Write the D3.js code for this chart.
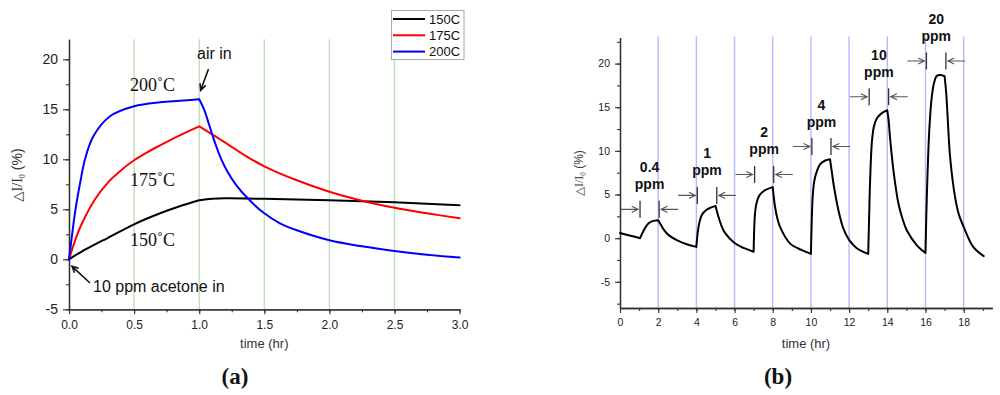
<!DOCTYPE html>
<html>
<head>
<meta charset="utf-8">
<script src="https://cdn.jsdelivr.net/npm/d3@7"></script>
<style>
  body { margin: 0; background: #fff; }
  svg { display: block; }
  .sans { font-family: "Liberation Sans", Arial, sans-serif; }
  .serif { font-family: "Liberation Serif", "Times New Roman", serif; }
</style>
</head>
<body>
<div id="chart"></div>
<script>
// Panel (a): 10 ppm acetone at three temperatures
const tempSeries = ["150C", "175C", "200C"];
const tempColors = ["#000000", "#ff0000", "#0000ff"];

const time150 = [0, 0.1, 0.2, 0.3, 0.5, 0.7, 0.85, 1.0, 1.1, 1.2, 1.5, 2.0, 2.5, 3.0];
const resp150 = [0, 0.8, 1.5, 2.15, 3.5, 4.6, 5.3, 5.9, 6.05, 6.1, 6.05, 5.9, 5.7, 5.4];

const time175 = [0, 0.05, 0.1, 0.2, 0.3, 0.4, 0.5, 0.6, 0.7, 0.85, 1.0,
  1.1, 1.22, 1.35, 1.5, 1.75, 2.0, 2.25, 2.5, 2.75, 3.0];
const resp175 = [0, 2.0, 3.6, 6.0, 7.7, 8.9, 9.9, 10.7, 11.4, 12.4, 13.3,
  12.5, 11.5, 10.4, 9.3, 7.9, 6.75, 5.85, 5.15, 4.6, 4.1];

const time200 = [0, 0.025, 0.05, 0.085, 0.123, 0.187, 0.315, 0.5, 0.7, 0.85, 1.0,
  1.04, 1.08, 1.12, 1.17, 1.22, 1.28, 1.38, 1.5, 1.62, 1.75, 2.0, 2.25, 2.5, 2.75, 3.0];
const resp200 = [0, 2.6, 5.0, 7.6, 10.0, 12.3, 14.3, 15.3, 15.7, 15.85, 16.0,
  14.9, 13.3, 11.7, 10.0, 8.7, 7.5, 6.0, 4.6, 3.6, 2.9, 1.9, 1.3, 0.83, 0.45, 0.17];

const breaksA = [1.0];   // air in
const ticksAx = [0, 0.5, 1.0, 1.5, 2.0, 2.5, 3.0];
const ticksAy = [-5, 0, 5, 10, 15, 20];
const gridA = [0.5, 1.0, 1.5, 2.0, 2.5];

// Panel (b): step concentrations at 200C
const timeB = [0, 0.5, 1.05, 1.2, 1.35, 1.5, 1.7, 2.0, 2.15, 2.3, 2.55, 3.0, 3.5, 4.0,
  4.08, 4.18, 4.3, 4.5, 4.75, 5.0, 5.15, 5.3, 5.5, 6.0, 6.5, 7.0,
  7.07, 7.15, 7.3, 7.6, 8.0, 8.12, 8.25, 8.4, 8.9, 9.5, 10.0,
  10.05, 10.1, 10.18, 10.3, 10.5, 10.75, 11.0, 11.1, 11.2, 11.44, 11.7, 12.0, 12.4, 13.0,
  13.05, 13.1, 13.2, 13.3, 13.45, 13.7, 14.0, 14.07, 14.14, 14.32, 14.58, 14.8, 15.02, 15.54, 16.0,
  16.07, 16.2, 16.33, 16.45, 16.6, 16.8, 17.0, 17.08, 17.15, 17.29, 17.55, 17.75, 18.0, 18.5, 19.05];
const respB = [0.6, 0.3, 0.0, 0.7, 1.3, 1.7, 1.95, 2.05, 1.5, 0.95, 0.35, -0.25, -0.7, -1.0,
  0.8, 2.0, 2.7, 3.2, 3.5, 3.7, 2.5, 1.5, 0.6, -0.55, -1.15, -1.55,
  2.8, 4.0, 4.9, 5.5, 5.85, 3.6, 2.2, 1.2, -0.6, -1.35, -1.8,
  2.5, 5.0, 6.6, 7.6, 8.5, 8.9, 9.05, 7.5, 6.0, 3.2, 1.1, -0.2, -1.15, -1.8,
  2.5, 6.6, 11.2, 12.8, 13.7, 14.3, 14.65, 13.5, 11.6, 7.8, 4.0, 2.2, 0.9, -0.8, -1.7,
  4.7, 12.4, 16.2, 17.8, 18.6, 18.7, 18.55, 16.8, 14.3, 9.3, 4.7, 2.7, 1.3, -1.0, -2.05];
const breaksB = [1.05, 2.0, 4.0, 5.0, 7.0, 8.0, 10.0, 11.0, 13.0, 14.0, 16.0, 17.0];

const ppmLabels = ["0.4", "1", "2", "4", "10", "20"];
const ppmOn = [1.05, 4.05, 7.05, 10.05, 13.05, 16.05];
const ppmOff = [2.05, 5.07, 8.05, 11.05, 14.07, 17.07];
const ppmMarkLevel = [3.3, 4.9, 7.3, 10.5, 16.2, 20.3];

const ticksBx = [0, 2, 4, 6, 8, 10, 12, 14, 16, 18];
const ticksBy = [-5, 0, 5, 10, 15, 20];
const gridB = [2, 4, 6, 8, 10, 12, 14, 16, 18];

const W = 1000, H = 395;
const svg = d3.select("#chart").append("svg")
  .attr("width", W).attr("height", H)
  .attr("viewBox", `0 0 ${W} ${H}`);
svg.append("rect").attr("width", W).attr("height", H).attr("fill", "#fff");

const hyphen = d => String(d);

// arrow with open V head pointing at (x2,y2)
function arrow(g, x1, y1, x2, y2, color, head, width) {
  const a = Math.atan2(y2 - y1, x2 - x1);
  const sp = 0.45;
  g.append("path")
    .attr("d", `M${x1},${y1}L${x2},${y2}` +
      `M${x2 - head * Math.cos(a - sp)},${y2 - head * Math.sin(a - sp)}L${x2},${y2}` +
      `L${x2 - head * Math.cos(a + sp)},${y2 - head * Math.sin(a + sp)}`)
    .attr("fill", "none").attr("stroke", color).attr("stroke-width", width);
}

// split a series at the gas switching times so the corners stay sharp
function segments(ts, vs, breaks) {
  const segs = [];
  let cur = [];
  d3.zip(ts, vs).forEach(p => {
    cur.push(p);
    if (breaks.includes(p[0]) && cur.length > 1) { segs.push(cur); cur = [p]; }
  });
  if (cur.length > 1) segs.push(cur);
  return segs;
}

function styleAxis(g, fontSize) {
  g.select(".domain").attr("stroke", "#333").attr("stroke-width", 1.3);
  g.selectAll(".tick line").attr("stroke", "#333").attr("stroke-width", 1.1);
  g.selectAll("text").attr("font-size", fontSize)
    .attr("fill", "#222").attr("font-family", "'Liberation Sans', Arial, sans-serif");
}

function yLabel(parent, x, y, size) {
  const t = parent.append("text")
    .attr("transform", `translate(${x},${y}) rotate(-90)`)
    .attr("text-anchor", "middle")
    .attr("font-size", size)
    .attr("fill", "#333");
  t.append("tspan").attr("font-family", "'DejaVu Sans', sans-serif").attr("font-size", size * 0.95).text("△");
  t.append("tspan").attr("font-family", "'Liberation Serif', serif").text("I/I");
  t.append("tspan").attr("font-family", "'Liberation Serif', serif")
    .attr("font-size", size * 0.6).attr("dy", 3).text("0");
  t.append("tspan").attr("font-family", "'Liberation Sans', Arial, sans-serif")
    .attr("dy", -3).text(" (%)");
}

// ---------------- Panel (a) ----------------
const xA = d3.scaleLinear().domain([0, 3]).range([69, 459.6]);
const yA = d3.scaleLinear().domain([-5, 22]).range([309.3, 39.3]);
const gA = svg.append("g");

gA.selectAll("line.grid").data(gridA).enter().append("line")
  .attr("x1", d => xA(d)).attr("x2", d => xA(d))
  .attr("y1", yA(22)).attr("y2", yA(-5))
  .attr("stroke", "#bfe0b8").attr("stroke-width", 1.4);

gA.append("g").attr("transform", `translate(0,${yA(-5)})`)
  .call(d3.axisBottom(xA).tickValues(d3.range(0, 3.01, 0.25)).tickSize(3).tickSizeOuter(0).tickFormat(""))
  .call(g => styleAxis(g, 12));
gA.append("g").attr("transform", `translate(0,${yA(-5)})`)
  .call(d3.axisBottom(xA).tickValues(ticksAx).tickSize(5).tickSizeOuter(0).tickPadding(6).tickFormat(d3.format(".1f")))
  .call(g => styleAxis(g, 12));
gA.append("g").attr("transform", `translate(${xA(0)},0)`)
  .call(d3.axisLeft(yA).tickValues(d3.range(-5, 22, 2.5)).tickSize(3).tickSizeOuter(0).tickFormat(""))
  .call(g => styleAxis(g, 14));
gA.append("g").attr("transform", `translate(${xA(0)},0)`)
  .call(d3.axisLeft(yA).tickValues(ticksAy).tickSize(6).tickSizeOuter(0).tickPadding(5).tickFormat(hyphen))
  .call(g => styleAxis(g, 14));

const lineA = d3.line().x(d => xA(d[0])).y(d => yA(d[1])).curve(d3.curveCatmullRom.alpha(0.5));
const seriesA = [
  segments(time150, resp150, breaksA),
  segments(time175, resp175, breaksA),
  segments(time200, resp200, breaksA)
];
gA.selectAll("path.series").data(seriesA).enter().append("path")
  .attr("d", segs => segs.map(s => lineA(s)).join(""))
  .attr("fill", "none")
  .attr("stroke", (d, i) => tempColors[i])
  .attr("stroke-width", 2)
  .attr("stroke-linejoin", "round")
  .attr("stroke-linecap", "round");

gA.append("text").attr("class", "sans").attr("x", xA(1.5)).attr("y", 348)
  .attr("text-anchor", "middle").attr("font-size", 13).attr("fill", "#333").text("time (hr)");
yLabel(gA, 22, 175, 14);

// legend
const leg = gA.append("g");
leg.append("rect").attr("x", 391.5).attr("y", 10.5).attr("width", 72.5).attr("height", 49)
  .attr("fill", "#fff").attr("stroke", "#aaa").attr("stroke-width", 1);
tempSeries.forEach((s, i) => {
  const y = 19 + i * 16.3;
  leg.append("line").attr("x1", 393).attr("x2", 425).attr("y1", y).attr("y2", y)
    .attr("stroke", tempColors[i]).attr("stroke-width", 2);
  leg.append("text").attr("class", "sans").attr("x", 429).attr("y", y + 4.5)
    .attr("font-size", 13).attr("fill", "#111").text(s);
});

// annotations
const serifLab = [["200˚C", 16.8], ["175˚C", 7.3], ["150˚C", 1.3]];
serifLab.forEach(([t, v]) => {
  gA.append("text").attr("class", "serif").attr("x", 130).attr("y", yA(v))
    .attr("font-size", 18).attr("fill", "#111").text(t);
});
gA.append("text").attr("class", "sans").attr("x", 197).attr("y", 59)
  .attr("font-size", 16).attr("fill", "#111").text("air in");
arrow(gA, 208.5, 69, xA(1.0) + 1.5, yA(16) - 9, "#111", 7, 1.6);
gA.append("text").attr("class", "sans").attr("x", 93).attr("y", 292)
  .attr("font-size", 16).attr("fill", "#111").text("10 ppm acetone in");
arrow(gA, 90, 283, xA(0) + 3, yA(0) + 7, "#111", 7, 1.6);

svg.append("text").attr("class", "serif").attr("x", 235).attr("y", 384)
  .attr("text-anchor", "middle").attr("font-size", 23).attr("font-weight", "bold")
  .attr("fill", "#111").text("(a)");

// ---------------- Panel (b) ----------------
const xB = d3.scaleLinear().domain([0, 19.5]).range([620, 992.3]);
const yB = d3.scaleLinear().domain([-8, 23]).range([308, 37.4]);
const gB = svg.append("g");

gB.selectAll("line.grid").data(gridB).enter().append("line")
  .attr("x1", d => xB(d)).attr("x2", d => xB(d))
  .attr("y1", 36.5).attr("y2", yB(-8))
  .attr("stroke", "#b8b8ff").attr("stroke-width", 1.4);

gB.append("g").attr("transform", `translate(0,${yB(-8)})`)
  .call(d3.axisBottom(xB).tickValues(d3.range(0, 20, 1)).tickSize(3).tickSizeOuter(0).tickFormat(""))
  .call(g => styleAxis(g, 10.5));
gB.append("g").attr("transform", `translate(0,${yB(-8)})`)
  .call(d3.axisBottom(xB).tickValues(ticksBx).tickSize(5).tickSizeOuter(0).tickPadding(6))
  .call(g => styleAxis(g, 10.5));
gB.append("g").attr("transform", `translate(${xB(0)},0)`)
  .call(d3.axisLeft(yB).tickValues(d3.range(-7.5, 23, 2.5)).tickSize(3).tickSizeOuter(0).tickFormat(""))
  .call(g => styleAxis(g, 10.5));
gB.append("g").attr("transform", `translate(${xB(0)},0)`)
  .call(d3.axisLeft(yB).tickValues(ticksBy).tickSize(5).tickSizeOuter(0).tickPadding(5).tickFormat(hyphen))
  .call(g => styleAxis(g, 10.5));

const lineB = d3.line().x(d => xB(d[0])).y(d => yB(d[1])).curve(d3.curveCatmullRom.alpha(0.5));
gB.append("path").datum(segments(timeB, respB, breaksB))
  .attr("d", segs => segs.map(s => lineB(s)).join(""))
  .attr("fill", "none").attr("stroke", "#000").attr("stroke-width", 2)
  .attr("stroke-linejoin", "round").attr("stroke-linecap", "round");

gB.append("text").attr("class", "sans").attr("x", 806).attr("y", 348)
  .attr("text-anchor", "middle").attr("font-size", 13).attr("fill", "#333").text("time (hr)");
yLabel(gB, 583, 173, 12);

// concentration markers
ppmLabels.forEach((lab, i) => {
  const xa = xB(ppmOn[i]), xb = xB(ppmOff[i]), y = yB(ppmMarkLevel[i]);
  const cx = (xa + xb) / 2;
  gB.append("line").attr("x1", xa).attr("x2", xa).attr("y1", y - 8.5).attr("y2", y + 8.5)
    .attr("stroke", "#333").attr("stroke-width", 1.3);
  gB.append("line").attr("x1", xb).attr("x2", xb).attr("y1", y - 8.5).attr("y2", y + 8.5)
    .attr("stroke", "#333").attr("stroke-width", 1.3);
  arrow(gB, xB(ppmOn[i] - 1), y, xa - 2, y, "#555", 7, 1.1);
  arrow(gB, xB(ppmOff[i] + 1), y, xb + 2, y, "#555", 7, 1.1);
  gB.append("text").attr("class", "sans").attr("x", cx).attr("y", y - 37)
    .attr("text-anchor", "middle").attr("font-size", 14).attr("font-weight", "bold")
    .attr("fill", "#111").text(lab);
  gB.append("text").attr("class", "sans").attr("x", cx).attr("y", y - 20)
    .attr("text-anchor", "middle").attr("font-size", 14).attr("font-weight", "bold")
    .attr("fill", "#111").text("ppm");
});

svg.append("text").attr("class", "serif").attr("x", 778).attr("y", 384)
  .attr("text-anchor", "middle").attr("font-size", 23).attr("font-weight", "bold")
  .attr("fill", "#111").text("(b)");
</script>
</body>
</html>
